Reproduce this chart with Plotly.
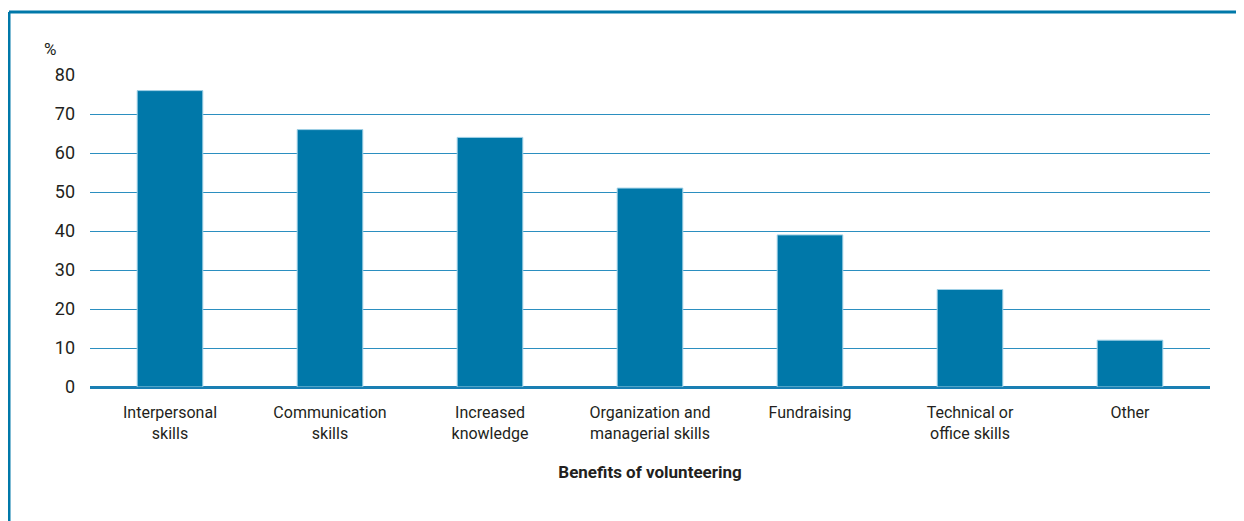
import plotly.graph_objects as go

categories = ["Interpersonal<br>skills", "Communication<br>skills", "Increased<br>knowledge",
              "Organization and<br>managerial skills", "Fundraising", "Technical or<br>office skills", "Other"]
values = [76, 66, 64, 51, 39, 25, 12]
y_ticks = [0, 10, 20, 30, 40, 50, 60, 70, 80]

BLUE = "#0078a9"
GRID = "#2b8fc0"
FONT = "Roboto, Arial, sans-serif"
TXT = "#231f20"

# the page shows the figure offset by 8px (body margin), so size accordingly
W, H = 1236, 513
L, R, T, B = 82, 34, 67, 134
PW = W - L - R
PH = H - T - B

fig = go.Figure(go.Bar(
    x=categories, y=values,
    marker=dict(color=BLUE, line=dict(color="#9fd0e6", width=1)),
    hoverinfo="x+y",
))

fig.update_layout(
    width=W, height=H,
    margin=dict(l=L, r=R, t=T, b=B, autoexpand=False),
    paper_bgcolor="white", plot_bgcolor="white",
    bargap=0.59,
    showlegend=False,
    font=dict(family=FONT, color=TXT, size=16),
    xaxis=dict(
        showgrid=False, showline=False, zeroline=False,
        tickfont=dict(size=16, family=FONT, color=TXT),
        title=dict(text="<b>Benefits of volunteering</b>", font=dict(size=17, family=FONT, color=TXT), standoff=24),
        ticks="", ticklabelstandoff=14,
    ),
    yaxis=dict(
        range=[0, 80], tickvals=y_ticks,
        showgrid=True, gridcolor=GRID, gridwidth=1.4,
        zeroline=True, zerolinecolor="#1a7fb3", zerolinewidth=3,
        showline=False, ticks="",
        tickfont=dict(size=18, family=FONT, color=TXT),
        ticklabelstandoff=14,
    ),
    annotations=[
        dict(text="%", xref="paper", yref="paper", x=(42 - L) / PW, y=1.0, yshift=14,
             xanchor="center", yanchor="bottom", showarrow=False,
             font=dict(size=17, family=FONT, color=TXT)),
    ],
)

# page frame lines (top and left)
top_y = (PH + T - 4) / PH  # frame top at figure y=4
left_x = (1 - L) / PW
fig.add_shape(type="line", xref="paper", yref="paper",
              x0=left_x, x1=1.1, y0=top_y, y1=top_y,
              line=dict(color=BLUE, width=3))
fig.add_shape(type="line", xref="paper", yref="paper",
              x0=left_x, x1=left_x, y0=-0.6, y1=top_y,
              line=dict(color=BLUE, width=3))

fig.write_html("out.html")
